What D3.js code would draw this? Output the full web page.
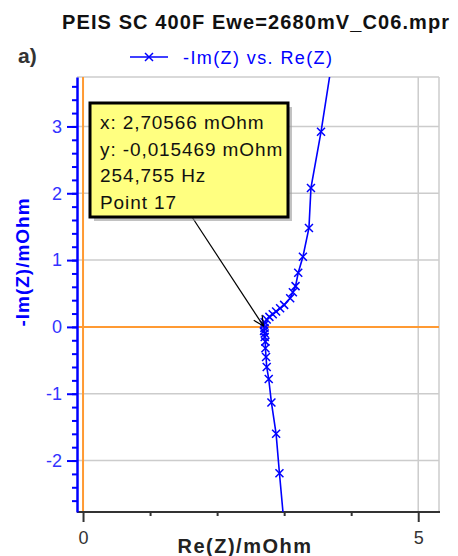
<!DOCTYPE html>
<html>
<head>
    <meta charset="utf-8">
    <title>PEIS Nyquist</title>
    <script type="text/javascript" src="https://cdnjs.cloudflare.com/ajax/libs/d3/7.8.5/d3.min.js"></script>
    <style>
        body { margin: 0; background: #fff; }
        svg text { font-family: "Liberation Sans", Arial, sans-serif; }
        .grid line { stroke: #cccccc; stroke-width: 1.5; }
    </style>
</head>
<body>
<script type="text/javascript">
// Re(Z) and -Im(Z) in mOhm, high frequency (bottom) to low frequency (top)
var reZ = [3.03, 2.93, 2.88, 2.81, 2.77, 2.74, 2.73, 2.72, 2.72, 2.71, 2.71, 2.70, 2.70566,
    2.70, 2.71, 2.74, 2.78, 2.83, 2.88, 2.94, 3.00, 3.09, 3.13, 3.17, 3.21, 3.28, 3.37, 3.40, 3.55, 3.78];
var negImZ = [-3.30, -2.19, -1.60, -1.13, -0.78, -0.60, -0.45, -0.32, -0.22, -0.15, -0.10, -0.06, -0.015469,
    0.03, 0.07, 0.11, 0.15, 0.19, 0.23, 0.28, 0.33, 0.43, 0.52, 0.61, 0.81, 1.05, 1.48, 2.08, 2.92, 4.40];

var xTicks = [0, 1, 2, 3, 4, 5];
var xTickLabels = ["0", "", "", "", "", "5"];
var yTicks = [-2, -1, 0, 1, 2, 3];
var yTickLabels = ["-2", "-1", "0", "1", "2", "3"];
var tooltipLines = ["x: 2,70566 mOhm", "y: -0,015469 mOhm", "254,755 Hz", "Point 17"];
var markedPoint = 12;

var width = 458, height = 556,
    margins = {top: 77, left: 77, right: 19, bottom: 44};

var x = d3.scaleLinear().domain([-0.09, 5.31]).range([margins.left, width - margins.right]);
var y = d3.scaleLinear().domain([-2.77, 3.74]).range([height - margins.bottom, margins.top]);

var blue = "#0000ff", orange = "#ff9a33";

var svg = d3.select("body").append("svg")
    .attr("width", width)
    .attr("height", height);

svg.append("defs").append("clipPath")
    .attr("id", "plot-clip")
    .append("rect")
    .attr("x", margins.left)
    .attr("y", margins.top)
    .attr("width", width - margins.left - margins.right)
    .attr("height", height - margins.top - margins.bottom);

// frame + grid
var grid = svg.append("g").attr("class", "grid");
grid.selectAll("line.h")
    .data(yTicks.filter(function (d) { return d !== 0; }))
    .enter().append("line")
    .attr("x1", margins.left).attr("x2", width - margins.right)
    .attr("y1", function (d) { return y(d); })
    .attr("y2", function (d) { return y(d); });
grid.append("line")
    .attr("x1", x(5)).attr("x2", x(5))
    .attr("y1", margins.top).attr("y2", height - margins.bottom);
grid.append("line")
    .attr("x1", margins.left).attr("x2", width - margins.right)
    .attr("y1", margins.top).attr("y2", margins.top);
grid.append("line")
    .attr("x1", width - margins.right).attr("x2", width - margins.right)
    .attr("y1", margins.top).attr("y2", height - margins.bottom);

// zero lines
svg.append("line")
    .attr("x1", margins.left).attr("x2", width - margins.right)
    .attr("y1", y(0)).attr("y2", y(0))
    .attr("stroke", orange).attr("stroke-width", 2);
svg.append("line")
    .attr("x1", x(0)).attr("x2", x(0))
    .attr("y1", margins.top).attr("y2", height - margins.bottom)
    .attr("stroke", orange).attr("stroke-width", 2);

// x axis
var xAxisG = svg.append("g")
    .attr("transform", "translate(0," + (height - margins.bottom) + ")");
xAxisG.call(d3.axisBottom(x).tickValues(xTicks).tickSizeOuter(0)
    .tickSize(4).tickFormat(function (d, i) { return xTickLabels[i]; }));
xAxisG.select("path.domain").attr("stroke", "#333").attr("stroke-width", 2)
    .attr("d", "M" + margins.left + ",0H" + (width - margins.right + 1));
xAxisG.selectAll(".tick line").attr("stroke", "#333").attr("stroke-width", 2)
    .attr("y2", function (d) { return (d === 0 || d === 5) ? 10 : 4; });
xAxisG.selectAll(".tick text")
    .attr("y", 19).attr("dy", "0.71em")
    .attr("fill", "#333").style("font-size", "18px");

// y axis: minor then major
var yAxisG = svg.append("g")
    .attr("transform", "translate(" + margins.left + ",0)");
yAxisG.append("g")
    .call(d3.axisLeft(y).tickValues(d3.range(-13, 19).map(function (d) { return d / 5; }))
        .tickSize(5).tickFormat(""))
    .call(function (g) { g.select(".domain").remove(); })
    .selectAll("line").attr("stroke", blue).attr("stroke-width", 2);
var yMajor = yAxisG.append("g")
    .call(d3.axisLeft(y).tickValues(yTicks).tickSize(10).tickPadding(5).tickSizeOuter(0)
        .tickFormat(function (d, i) { return yTickLabels[i]; }));
yMajor.select(".domain").attr("stroke", blue).attr("stroke-width", 2.5);
yMajor.selectAll(".tick line").attr("stroke", blue).attr("stroke-width", 2);
yMajor.selectAll(".tick text").attr("fill", "#3333ff").style("font-size", "18px");

// data
var plot = svg.append("g").attr("clip-path", "url(#plot-clip)");
var pts = reZ.map(function (d, i) { return [d, negImZ[i]]; });
plot.append("path")
    .datum(pts)
    .attr("fill", "none")
    .attr("stroke", blue)
    .attr("stroke-width", 1.6)
    .attr("d", d3.line().x(function (d) { return x(d[0]); }).y(function (d) { return y(d[1]); }));
var s = 4;
function cross(cx, cy) {
    return "M" + (cx - s) + "," + (cy - s) + "L" + (cx + s) + "," + (cy + s)
        + "M" + (cx - s) + "," + (cy + s) + "L" + (cx + s) + "," + (cy - s);
}
plot.selectAll("path.marker")
    .data(pts)
    .enter().append("path")
    .attr("class", "marker")
    .attr("fill", "none")
    .attr("stroke", blue)
    .attr("stroke-width", 1.5)
    .attr("d", function (d) { return cross(x(d[0]), y(d[1])); });

// tooltip
var tip = {x: 90, y: 103, w: 198, h: 114};
svg.append("defs").append("marker")
    .attr("id", "arrow")
    .attr("viewBox", "0 0 12 12")
    .attr("refX", 11).attr("refY", 6)
    .attr("markerWidth", 12).attr("markerHeight", 12)
    .attr("markerUnits", "userSpaceOnUse")
    .attr("orient", "auto")
    .append("path")
    .attr("d", "M1,1L11,6L1,11")
    .attr("fill", "none").attr("stroke", "#000").attr("stroke-width", 1.2);
svg.append("line")
    .attr("x1", 192).attr("y1", tip.y + tip.h)
    .attr("x2", x(reZ[markedPoint]) - 1).attr("y2", y(negImZ[markedPoint]) - 2)
    .attr("stroke", "#000").attr("stroke-width", 1.2)
    .attr("marker-end", "url(#arrow)");
svg.append("defs").append("clipPath")
    .attr("id", "tip-clip")
    .append("rect").attr("x", tip.x).attr("y", tip.y).attr("width", tip.w).attr("height", tip.h);
svg.append("rect")
    .attr("x", tip.x + 4).attr("y", tip.y + 4).attr("width", tip.w).attr("height", tip.h)
    .attr("fill", "#9a9a9a").attr("opacity", 0.6);
svg.append("rect")
    .attr("x", tip.x).attr("y", tip.y).attr("width", tip.w).attr("height", tip.h)
    .attr("fill", "#ffff80");
svg.append("g").attr("clip-path", "url(#tip-clip)")
    .selectAll("text").data(tooltipLines)
    .enter().append("text")
    .attr("x", tip.x + 10)
    .attr("y", function (d, i) { return tip.y + 26 + i * 26.5; })
    .style("font-size", "19px").style("letter-spacing", "0.9px")
    .attr("fill", "#111")
    .text(function (d) { return d; });
svg.append("rect")
    .attr("x", tip.x).attr("y", tip.y).attr("width", tip.w).attr("height", tip.h)
    .attr("fill", "none").attr("stroke", "#000").attr("stroke-width", 3);

// titles
svg.append("text")
    .attr("x", 62).attr("y", 29)
    .style("font-size", "20px").style("font-weight", "bold").style("letter-spacing", "1.1px")
    .attr("fill", "#111")
    .text("PEIS SC 400F Ewe=2680mV_C06.mpr");
svg.append("text")
    .attr("x", 18).attr("y", 63)
    .style("font-size", "21px").style("font-weight", "bold")
    .attr("fill", "#333")
    .text("a)");
svg.append("line")
    .attr("x1", 130).attr("x2", 168).attr("y1", 57).attr("y2", 57)
    .attr("stroke", blue).attr("stroke-width", 1.6);
svg.append("path")
    .attr("d", cross(149, 57))
    .attr("stroke", blue).attr("stroke-width", 1.5);
svg.append("text")
    .attr("x", 183).attr("y", 64)
    .style("font-size", "18px").style("letter-spacing", "1.4px")
    .attr("fill", blue)
    .text("-Im(Z) vs. Re(Z)");
svg.append("text")
    .attr("x", 245).attr("y", 553)
    .attr("text-anchor", "middle")
    .style("font-size", "20px").style("font-weight", "bold").style("letter-spacing", "1.5px")
    .attr("fill", "#222")
    .text("Re(Z)/mOhm");
svg.append("text")
    .attr("transform", "translate(29,262) rotate(-90)")
    .attr("text-anchor", "middle")
    .style("font-size", "19px").style("font-weight", "bold").style("letter-spacing", "1px")
    .attr("fill", blue)
    .text("-Im(Z)/mOhm");
</script>
</body>
</html>
